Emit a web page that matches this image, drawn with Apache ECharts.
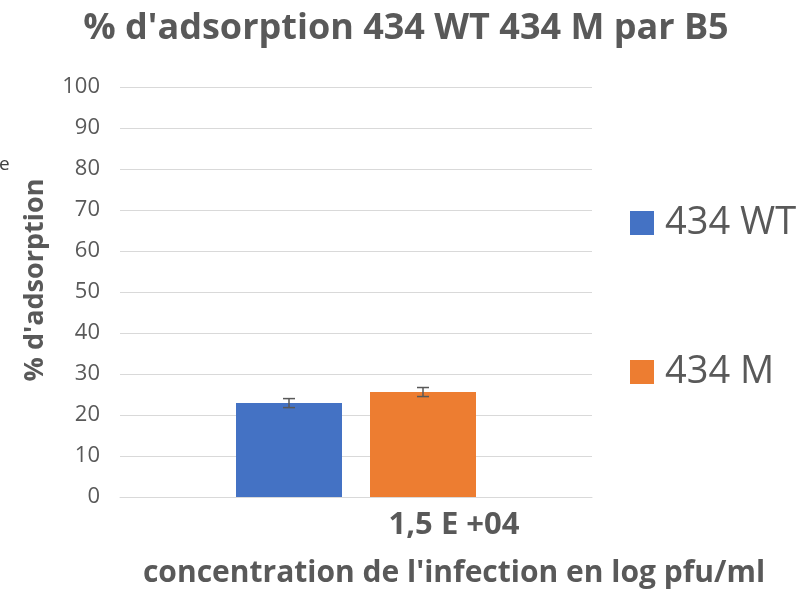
<!DOCTYPE html>
<html><head><meta charset="utf-8">
<script src="https://cdn.jsdelivr.net/npm/echarts@6/dist/echarts.min.js"></script>
<style>html,body{margin:0;padding:0;background:#fff}#c{width:801px;height:589px}</style>
</head><body><div id="c"></div>
<script>
var categories = ['1,5 E +04'];
var seriesNames = ['434 WT', '434 M'];
var wtValues = [22.9];
var mValues = [25.6];
var wtErrors = [1.1];
var mErrors = [1.1];
var yTicks = [0, 10, 20, 30, 40, 50, 60, 70, 80, 90, 100];

var BAR_W = 106, BAR_GAP = 28;
var colors = ['#4472c4', '#ed7d31'];
var chart = echarts.init(document.getElementById('c'));

function errSeries(vals, errs, idx) {
  var data = vals.map(function (v, i) { return [i, v, errs[i]]; });
  return {
    type: 'custom', silent: true, z: 10,
    data: data,
    renderItem: function (params, api) {
      var i = api.value(0), v = api.value(1), e = api.value(2);
      var c = api.coord([i, v]);
      var off = (idx === 0 ? -1 : 1) * (BAR_W + BAR_GAP) / 2;
      var x = c[0] + off;
      var top = api.coord([i, v + e])[1];
      var bot = api.coord([i, v - e])[1];
      var st = { stroke: '#595959', lineWidth: 1.5 };
      return { type: 'group', children: [
        { type: 'line', shape: { x1: x, y1: top, x2: x, y2: bot }, style: st },
        { type: 'line', shape: { x1: x - 6, y1: top, x2: x + 6, y2: top }, style: st },
        { type: 'line', shape: { x1: x - 6, y1: bot, x2: x + 6, y2: bot }, style: st }
      ]};
    }
  };
}

chart.setOption({
  animation: false,
  textStyle: { fontFamily: 'Open Sans' },
  title: {
    text: "% d'adsorption 434 WT 434 M par B5",
    left: 401, top: 6, textAlign: 'center',
    textStyle: { fontSize: 36, fontWeight: 'bold', color: '#595959', fontFamily: 'Open Sans' }
  },
  legend: [
    { data: [seriesNames[0]], left: 625, top: 199, orient: 'vertical', itemWidth: 24, itemHeight: 24, itemGap: 0,
      icon: 'rect', textStyle: { fontSize: 38, color: '#595959', fontFamily: 'Open Sans', padding: [0, 0, 0, 6] } },
    { data: [seriesNames[1]], left: 625, top: 348, orient: 'vertical', itemWidth: 24, itemHeight: 24, itemGap: 0,
      icon: 'rect', textStyle: { fontSize: 38, color: '#595959', fontFamily: 'Open Sans', padding: [0, 0, 0, 6] } }
  ],
  grid: { left: 120, right: 209, top: 87, bottom: 92, containLabel: false, outerBoundsMode: 'none' },
  xAxis: {
    type: 'category', data: categories,
    axisLine: { show: true, lineStyle: { color: '#d9d9d9', width: 1 } },
    axisTick: { show: false },
    axisLabel: { fontSize: 31, fontWeight: 'bold', color: '#595959', margin: 13, padding: [0, 0, 0, 196] },
    name: "concentration de l'infection en log pfu/ml",
    nameLocation: 'middle', nameGap: 61,
    nameTextStyle: { fontSize: 30, fontWeight: 'bold', color: '#595959', padding: [0, 0, 0, 196] }
  },
  yAxis: {
    type: 'value', min: yTicks[0], max: yTicks[yTicks.length - 1], interval: 10,
    axisLine: { show: false }, axisTick: { show: false },
    splitLine: { lineStyle: { color: '#d9d9d9', width: 1 } },
    axisLabel: { fontSize: 22, color: '#595959', margin: 20 },
    name: "% d'adsorption", nameLocation: 'middle', nameGap: 71,
    nameTextStyle: { fontSize: 27, fontWeight: 'bold', color: '#595959', padding: [0, 0, 0, 24] }
  },
  series: [
    { name: seriesNames[0], type: 'bar', data: wtValues, barWidth: BAR_W, barGap: (BAR_GAP / BAR_W * 100) + '%', itemStyle: { color: colors[0] } },
    { name: seriesNames[1], type: 'bar', data: mValues, barWidth: BAR_W, itemStyle: { color: colors[1] } },
    errSeries(wtValues, wtErrors, 0),
    errSeries(mValues, mErrors, 1)
  ],
  graphic: [
    { type: 'text', left: -1, top: 155, style: { text: 'e', fontSize: 19, fontFamily: 'Open Sans', fill: '#404040' } }
  ]
});
</script></body></html>
